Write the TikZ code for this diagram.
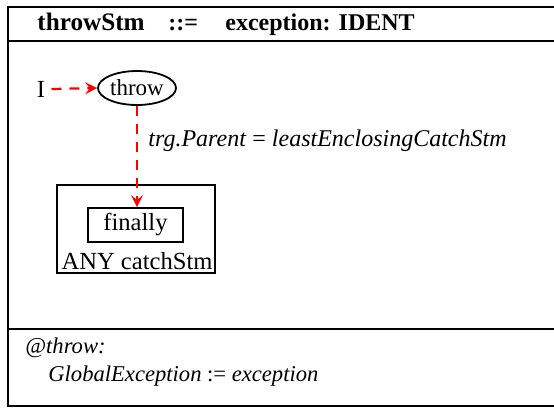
\documentclass[tikz,border=0pt]{standalone}
\usepackage{fontspec}
\setmainfont{Liberation Serif}
\usetikzlibrary{arrows.meta,shapes.geometric}
\begin{document}
\begin{tikzpicture}[x=0.5pt,y=-0.5pt,
  frame/.style={line width=1pt,draw=black},
  redarrow/.style={draw=red,line width=1.1pt,dash pattern=on 5pt off 4pt,-{Stealth[length=6pt,width=6pt,inset=2.4pt]}},
  txt/.style={font=\fontsize{12.3}{14}\selectfont,inner sep=0pt},
  hdr/.style={font=\fontsize{12}{14}\selectfont\bfseries,inner sep=0pt},
  boxed/.style={draw=black,line width=0.9pt,inner sep=0pt}]
\useasboundingbox (0,0) rectangle (554,409);
% outer frame
\draw[frame] (570,7) -- (8,7) -- (8,406) -- (570,406);
\draw[frame] (8,41) -- (570,41);
\draw[frame] (8,329) -- (570,329);
% header
\node[hdr,anchor=base west,font=\fontsize{12.6}{14}\selectfont\bfseries] (h1) at (37,30) {throwStm};
\node[hdr,anchor=base west] (h2) at (168,30) {::=};
\node[hdr,anchor=base west] (h3) at (225,30) {exception: IDENT};
% diagram
\node[txt] (I) at (41,89) {I};
\node[txt,font=\fontsize{11.5}{13}\selectfont,draw=black,line width=0.9pt,ellipse,minimum width=39pt,minimum height=17pt,inner sep=0pt] (throw) at (137,88) {throw};
\node[boxed,minimum width=79pt,minimum height=44pt] (catch) at (136,229) {};
\node[boxed,minimum width=47.5pt,minimum height=17pt] (fin) at (135.5,225) {};
\node[txt] (fint) at (135.5,224) {finally};
\node[txt,anchor=base] (anyt) at (137,269) {ANY catchStm};
\draw[redarrow] (I.east) ++(6,0) coordinate (Ie) -- (throw.west);
\draw[redarrow] (throw.south) -- (fin.north -| throw.south);
\node[txt,anchor=west,font=\fontsize{12}{14}\selectfont] (lab) at (148,141) {\textit{trg.Parent} = \textit{leastEnclosingCatchStm}};
% attribute section
\node[txt,anchor=base west,font=\fontsize{11.3}{13}\selectfont] (a1) at (25,353) {\textit{@throw:}};
\node[txt,anchor=base west,font=\fontsize{11.3}{13}\selectfont] (a2) at (48,381) {\textit{GlobalException} := \textit{exception}};
\end{tikzpicture}
\end{document}
